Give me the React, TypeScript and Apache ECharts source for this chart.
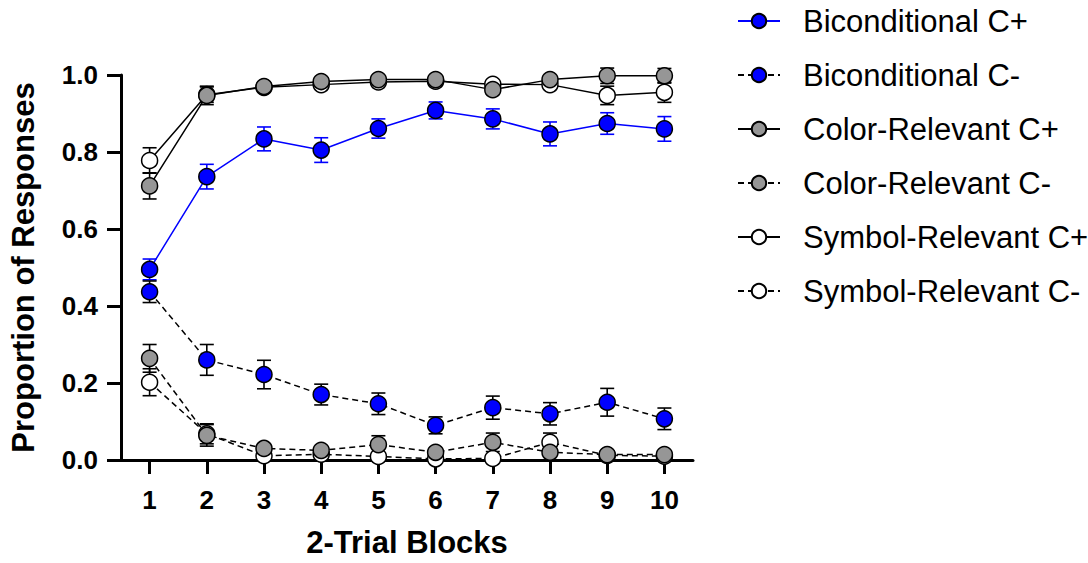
import React, { useEffect, useRef } from "react";
import * as echarts from "echarts";

const blocks = ["1", "2", "3", "4", "5", "6", "7", "8", "9", "10"];
const yTicks = [0, 0.2, 0.4, 0.6, 0.8, 1.0];

const bicPlus = [0.495, 0.736, 0.834, 0.805, 0.861, 0.908, 0.886, 0.847, 0.874, 0.86];
const bicPlusErr = [0.027, 0.032, 0.031, 0.032, 0.025, 0.022, 0.026, 0.031, 0.028, 0.032];
const bicMinus = [0.437, 0.26, 0.222, 0.17, 0.146, 0.09, 0.136, 0.12, 0.15, 0.107];
const bicMinusErr = [0.028, 0.04, 0.037, 0.027, 0.028, 0.022, 0.03, 0.029, 0.036, 0.028];
const colPlus = [0.712, 0.947, 0.97, 0.983, 0.988, 0.988, 0.962, 0.988, 0.998, 0.998];
const colPlusErr = [0.034, 0.024, 0.012, 0.01, 0.008, 0.008, 0.012, 0.008, 0.02, 0.019];
const colMinus = [0.264, 0.064, 0.03, 0.025, 0.04, 0.02, 0.046, 0.02, 0.014, 0.014];
const colMinusErr = [0.036, 0.028, 0.01, 0.008, 0.023, 0.01, 0.024, 0.01, 0.006, 0.006];
const symPlus = [0.778, 0.949, 0.968, 0.975, 0.982, 0.984, 0.976, 0.975, 0.947, 0.955];
const symPlusErr = [0.033, 0.02, 0.012, 0.01, 0.008, 0.008, 0.01, 0.01, 0.024, 0.026];
const symMinus = [0.202, 0.068, 0.011, 0.015, 0.009, 0.003, 0.004, 0.046, 0.012, 0.01];
const symMinusErr = [0.035, 0.026, 0.006, 0.006, 0.006, 0.003, 0.003, 0.024, 0.006, 0.006];

const FONT = "'Liberation Sans', Arial, sans-serif";

type Def = {
  name: string;
  values: number[];
  errs: number[];
  fill: string;
  line: string;
  dashed: boolean;
  z: number;
};

const defs: Def[] = [
  { name: "Biconditional C+", values: bicPlus, errs: bicPlusErr, fill: "#0000ff", line: "#0000ff", dashed: false, z: 9 },
  { name: "Biconditional C-", values: bicMinus, errs: bicMinusErr, fill: "#0000ff", line: "#000000", dashed: true, z: 8 },
  { name: "Color-Relevant C+", values: colPlus, errs: colPlusErr, fill: "#969696", line: "#000000", dashed: false, z: 7 },
  { name: "Color-Relevant C-", values: colMinus, errs: colMinusErr, fill: "#969696", line: "#000000", dashed: true, z: 6 },
  { name: "Symbol-Relevant C+", values: symPlus, errs: symPlusErr, fill: "#ffffff", line: "#000000", dashed: false, z: 5 },
  { name: "Symbol-Relevant C-", values: symMinus, errs: symMinusErr, fill: "#ffffff", line: "#000000", dashed: true, z: 4 },
];

export default function App() {
  const ref = useRef<HTMLDivElement>(null);
  useEffect(() => {
    if (!ref.current) return;
    const chart = echarts.init(ref.current, undefined, { renderer: "svg" });

    const errSeries = defs.map((d) => ({
      type: "custom",
      name: d.name + " err",
      z: 1,
      silent: true,
      encode: { x: 0, y: [1, 2] },
      data: d.values.map((v, i) => [i, v - d.errs[i], v + d.errs[i]]),
      renderItem: (params: any, api: any) => {
        const x = api.value(0);
        const lo = api.coord([x, api.value(1)]);
        const hi = api.coord([x, api.value(2)]);
        const w = 7;
        const style = { stroke: d.line, lineWidth: 1.6 };
        return {
          type: "group",
          children: [
            { type: "line", shape: { x1: hi[0], y1: hi[1], x2: lo[0], y2: lo[1] }, style },
            { type: "line", shape: { x1: hi[0] - w, y1: hi[1], x2: hi[0] + w, y2: hi[1] }, style },
            { type: "line", shape: { x1: lo[0] - w, y1: lo[1], x2: lo[0] + w, y2: lo[1] }, style },
          ],
        };
      },
    }));

    const lineSeries = defs.map((d) => ({
      type: "line",
      name: d.name,
      z: d.z,
      data: d.values,
      symbol: "circle",
      symbolSize: 16,
      showAllSymbol: true,
      clip: false,
      lineStyle: { color: d.line, width: 1.5, type: d.dashed ? [6, 4] : "solid" },
      itemStyle: { color: d.fill, borderColor: "#000", borderWidth: 1.5 },
      emphasis: { disabled: true },
    }));

    chart.setOption({
      animation: false,
      backgroundColor: "#ffffff",
      grid: { left: 116, right: 395, top: 75, bottom: 102, containLabel: false },
      legend: {
        left: 732,
        top: 0,
        orient: "vertical",
        itemWidth: 42,
        itemHeight: 18,
        itemGap: 22,
        data: defs.map((d) => d.name),
        textStyle: {
          fontFamily: FONT,
          fontSize: 31,
          color: "#000",
          lineHeight: 32,
          padding: [0, 0, 0, 18],
        },
      },
      xAxis: {
        type: "category",
        data: blocks,
        boundaryGap: true,
        name: "2-Trial Blocks",
        nameLocation: "middle",
        nameGap: 67,
        nameTextStyle: { fontFamily: FONT, fontSize: 31, fontWeight: "bold", color: "#000" },
        axisLine: { show: true, lineStyle: { color: "#000", width: 3 } },
        axisTick: { show: true, alignWithLabel: true, length: 14, lineStyle: { color: "#000", width: 3 } },
        axisLabel: { fontFamily: FONT, fontSize: 26, fontWeight: "bold", color: "#000", margin: 27 },
        splitLine: { show: false },
      },
      yAxis: {
        type: "value",
        min: yTicks[0],
        max: yTicks[yTicks.length - 1],
        interval: 0.2,
        name: "Proportion of Responses",
        nameLocation: "middle",
        nameGap: 82,
        nameTextStyle: { fontFamily: FONT, fontSize: 31, fontWeight: "bold", color: "#000" },
        axisLine: { show: true, lineStyle: { color: "#000", width: 3 } },
        axisTick: { show: true, length: 14, lineStyle: { color: "#000", width: 3 } },
        axisLabel: {
          fontFamily: FONT,
          fontSize: 26,
          fontWeight: "bold",
          color: "#000",
          margin: 23,
          formatter: (v: number) => v.toFixed(1),
        },
        splitLine: { show: false },
      },
      series: [...errSeries, ...lineSeries],
    });
    return () => chart.dispose();
  }, []);
  return (
    <div
      ref={ref}
      style={{ position: "fixed", left: 0, top: 0, width: 1088, height: 563, background: "#fff" }}
    />
  );
}
